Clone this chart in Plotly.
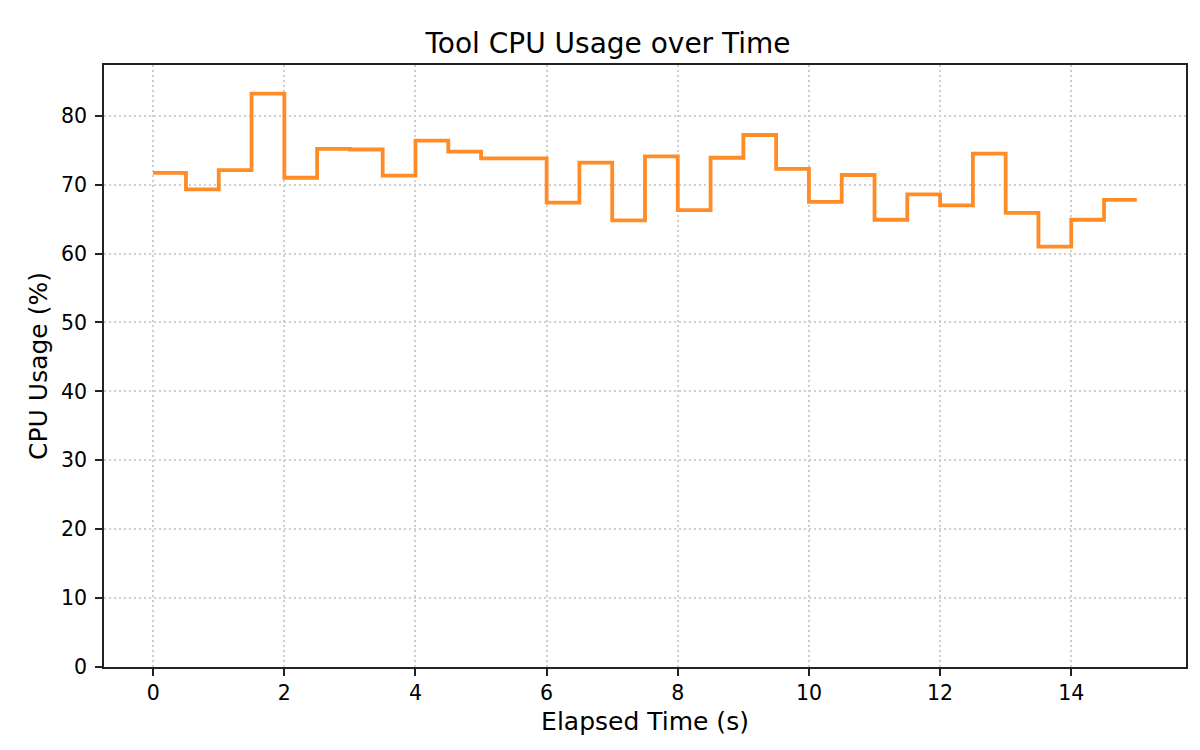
import plotly.graph_objects as go

times = [0, 0.5, 1, 1.5, 2, 2.5, 3, 3.5, 4, 4.5, 5, 5.5, 6, 6.5, 7, 7.5,
         8, 8.5, 9, 9.5, 10, 10.5, 11, 11.5, 12, 12.5, 13, 13.5, 14, 14.5, 15]
cpu_usage = [71.7, 69.3, 72.1, 83.2, 71.0, 75.2, 75.1, 71.3, 76.4, 74.8,
             73.8, 73.8, 67.4, 73.2, 64.8, 74.1, 66.3, 73.9, 77.2, 72.3,
             67.5, 71.4, 64.9, 68.6, 67.0, 74.5, 65.9, 61.0, 64.9, 67.8, 67.8]
x_ticks = [0, 2, 4, 6, 8, 10, 12, 14]
y_ticks = [0, 10, 20, 30, 40, 50, 60, 70, 80]

FONT = "DejaVu Sans"

fig = go.Figure()
fig.add_trace(go.Scatter(
    x=times, y=cpu_usage, mode="lines",
    line=dict(shape="hv", color="rgba(255,127,14,0.9)", width=3.8),
    showlegend=False,
))

axis_common = dict(
    showline=True, linecolor="#222222", linewidth=1.7, mirror=True,
    ticks="outside", ticklen=7, tickwidth=1.7, tickcolor="#222222",
    showgrid=True, gridcolor="#cfcfcf", griddash="2px,3px", gridwidth=1.6,
    zeroline=False,
    tickfont=dict(family=FONT, size=20.5, color="black"),
)

fig.update_layout(
    width=1200, height=750,
    margin=dict(l=96, r=22, t=57, b=91),
    paper_bgcolor="white", plot_bgcolor="white",
    font=dict(family=FONT, color="black"),
    title=dict(text="Tool CPU Usage over Time", x=0.5, xanchor="center",
               y=1 - 35 / 750, yanchor="middle", yref="container",
               font=dict(family=FONT, size=28, color="black")),
    xaxis=dict(axis_common, range=[-0.75, 15.75], tickvals=x_ticks,
               ticklabelstandoff=0,
               title=dict(text="Elapsed Time (s)", standoff=8,
                          font=dict(family=FONT, size=25, color="black"))),
    yaxis=dict(axis_common, range=[0, max(cpu_usage) * 1.05], tickvals=y_ticks,
               ticklabelstandoff=4,
               title=dict(text="CPU Usage (%)", standoff=6,
                          font=dict(family=FONT, size=25, color="black"))),
)

fig.write_html("out.html")
